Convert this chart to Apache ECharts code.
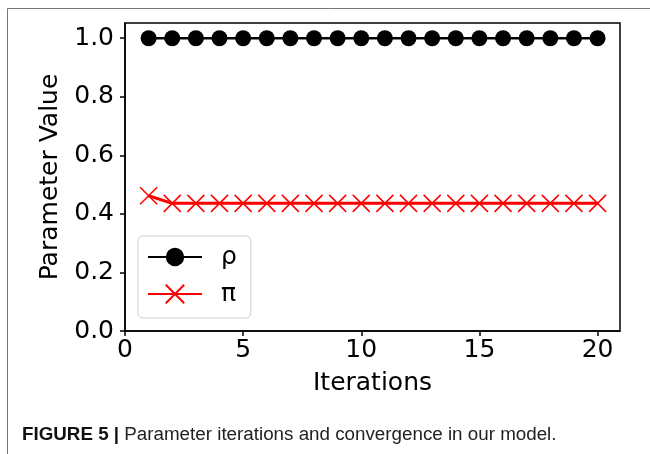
<!DOCTYPE html>
<html>
<head>
<meta charset="utf-8">
<script src="https://cdn.jsdelivr.net/npm/echarts@6/dist/echarts.min.js"></script>
<style>
  html, body { margin: 0; padding: 0; background: #fff; }
  #chart { width: 650px; height: 454px; }
</style>
</head>
<body>
<div id="chart"></div>
<script>
// values
const iterations = [1, 2, 3, 4, 5, 6, 7, 8, 9, 10, 11, 12, 13, 14, 15, 16, 17, 18, 19, 20];
const rhoValues = [1, 1, 1, 1, 1, 1, 1, 1, 1, 1, 1, 1, 1, 1, 1, 1, 1, 1, 1, 1];
const piValues = [0.462, 0.436, 0.436, 0.436, 0.436, 0.436, 0.436, 0.436, 0.436, 0.436,
  0.436, 0.436, 0.436, 0.436, 0.436, 0.436, 0.436, 0.436, 0.436, 0.436];
const xTicks = [0, 5, 10, 15, 20];
const yTicks = [0, 0.2, 0.4, 0.6, 0.8, 1.0];

const font = 'DejaVu Sans';
const fs = 25;
const chart = echarts.init(document.getElementById('chart'), null, { renderer: 'canvas' });

chart.setOption({
  animation: false,
  backgroundColor: '#fff',
  title: {
    left: 22,
    top: 425,
    padding: 0,
    text: '{b|FIGURE 5 |} Parameter iterations and convergence in our model.',
    textStyle: {
      fontFamily: 'Liberation Sans',
      fontSize: 18.8,
      fontWeight: 'normal',
      color: '#222',
      rich: {
        b: { fontFamily: 'Liberation Sans', fontSize: 18.8, fontWeight: 'bold', color: '#111' },
      },
    },
  },
  graphic: [
    { type: 'line', shape: { x1: 7.5, y1: 8.5, x2: 650, y2: 8.5 }, style: { stroke: '#777', lineWidth: 1 } },
    { type: 'line', shape: { x1: 7.5, y1: 8.5, x2: 7.5, y2: 454 }, style: { stroke: '#777', lineWidth: 1 } },
  ],
  grid: {
    left: 125,
    top: 23,
    right: 30,
    bottom: 123,
    show: true,
    borderColor: '#000',
    borderWidth: 1.5,
  },
  legend: {
    orient: 'vertical',
    left: 138,
    top: 236,
    padding: [6, 14, 9, 9],
    itemWidth: 54,
    itemHeight: 23,
    itemGap: 7,
    backgroundColor: '#fff',
    borderColor: '#d0d0d0',
    borderWidth: 1,
    borderRadius: 5,
    textStyle: { fontFamily: font, fontSize: fs, color: '#000', lineHeight: 30, padding: [0, 0, 0, 14] },
    data: ['ρ', 'π'],
  },
  xAxis: {
    type: 'value',
    min: 0,
    max: 20.95,
    name: 'Iterations',
    nameLocation: 'middle',
    nameGap: 40,
    nameTextStyle: { fontFamily: font, fontSize: fs, color: '#000' },
    axisLine: { show: true, lineStyle: { color: '#000', width: 1.5 } },
    axisTick: { show: true, customValues: xTicks, length: 5, lineStyle: { color: '#000', width: 1.5 } },
    axisLabel: { customValues: xTicks, fontFamily: font, fontSize: fs, color: '#000', margin: 7 },
    splitLine: { show: false },
  },
  yAxis: {
    type: 'value',
    min: 0,
    max: 1.052,
    name: 'Parameter Value',
    nameLocation: 'middle',
    nameGap: 57,
    nameTextStyle: { fontFamily: font, fontSize: fs, color: '#000' },
    axisLine: { show: true, lineStyle: { color: '#000', width: 1.5 } },
    axisTick: { show: true, customValues: yTicks, length: 5, lineStyle: { color: '#000', width: 1.5 } },
    axisLabel: {
      customValues: yTicks,
      fontFamily: font,
      fontSize: fs,
      color: '#000',
      margin: 11,
      formatter: (v) => v.toFixed(1),
    },
    splitLine: { show: false },
  },
  series: [
    {
      name: 'ρ',
      type: 'line',
      data: iterations.map((x, i) => [x, rhoValues[i]]),
      symbol: 'circle',
      symbolSize: 16,
      showAllSymbol: true,
      lineStyle: { color: '#000', width: 2.5 },
      itemStyle: { color: '#000' },
      z: 3,
    },
    {
      name: 'π',
      type: 'line',
      data: iterations.map((x, i) => [x, piValues[i]]),
      symbol: 'path://M0,0L10,10M10,0L0,10',
      symbolSize: 17,
      showAllSymbol: true,
      lineStyle: { color: '#ff0000', width: 3 },
      itemStyle: { color: 'none', borderColor: '#ff0000', borderWidth: 1.5 },
      z: 2,
    },
  ],
});
</script>
</body>
</html>
